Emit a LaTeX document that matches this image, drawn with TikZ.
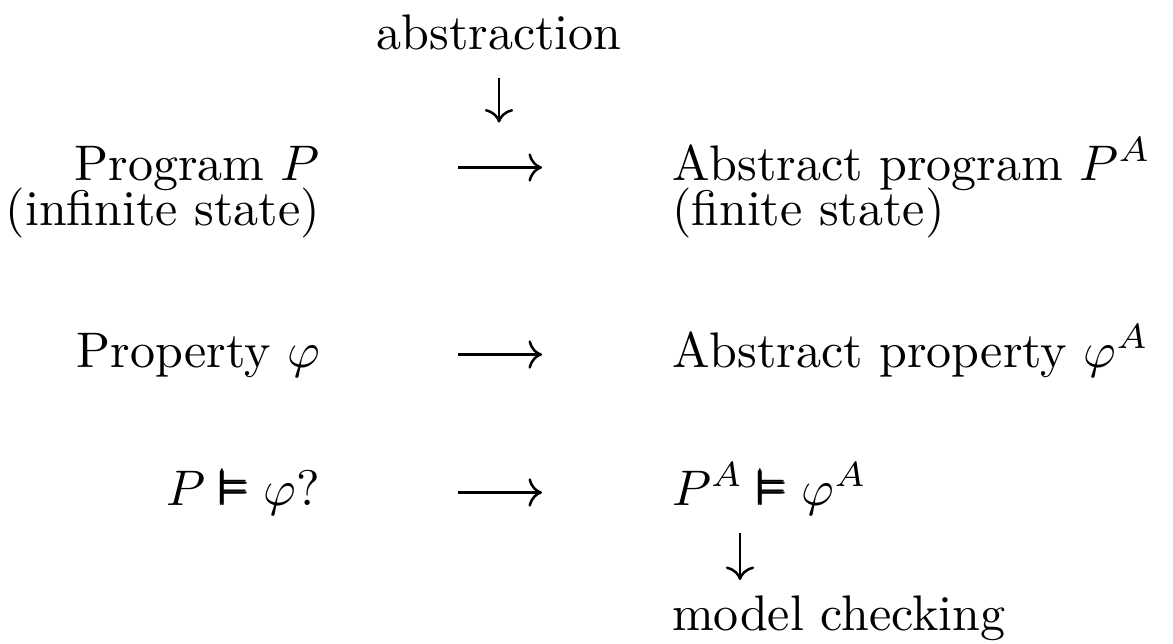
\documentclass[tikz,border=0pt]{standalone}
\usepackage{amsmath,amssymb}
\usepackage{tikz}
\usetikzlibrary{arrows.meta, positioning}

\newcommand{\sat}{\mathrel{\pmb{\vDash}}}

\begin{document}
\begin{tikzpicture}[
                x=1pt, y=1pt,
                every node/.style={inner sep=0pt, outer sep=0pt},
                left/.style={anchor=base east},
                right/.style={anchor=base west},
                arr/.style={line width=0.5pt, -{Computer Modern Rightarrow}}
            ]
            \useasboundingbox (0,0) rectangle (234.6,-128.6);

            % Etiquette du haut
            \node[anchor=base] (abs) at (99.8,-9.8) {abstraction};

            % Colonne de gauche
            \node[left] (prog) at (64,-36) {Program $P$};
            \node[left] (inf) at (64,-45) {(infinite state)};
            \node[left] (prop) at (64,-73.4) {Property $\varphi$};
            \node[left] (sat) at (64,-101) {$P \sat \varphi$?};

            % Colonne de droite
            \node[right] (aprog) at (134.4,-36) {Abstract program $P^A$};
            \node[right] (fin) at (134.4,-45) {(finite state)};
            \node[right] (aprop) at (134.4,-73.4) {Abstract property $\varphi^A$};
            \node[right] (asat) at (134.4,-101) {$P^A \sat \varphi^A$};
            \node[right] (mc) at (134.4,-126) {model checking};

            % Fleches
            \coordinate (cl) at (91.6,0);
            \coordinate (cr) at (108.4,0);
            \foreach \a/\b in {prog/aprog, prop/aprop, sat/asat}
                \draw[arr] ([yshift=2.5pt]\a.base -| cl) -- ([yshift=2.5pt]\b.base -| cr);

            \draw[arr, shorten <=5.6pt] (abs.south) -- ++(0,-14.6);
            \draw[arr] ([xshift=13.6pt,yshift=-5.6pt]asat.base west) -- ([xshift=13.6pt,yshift=10pt]mc.base west);
        \end{tikzpicture}
\end{document}
